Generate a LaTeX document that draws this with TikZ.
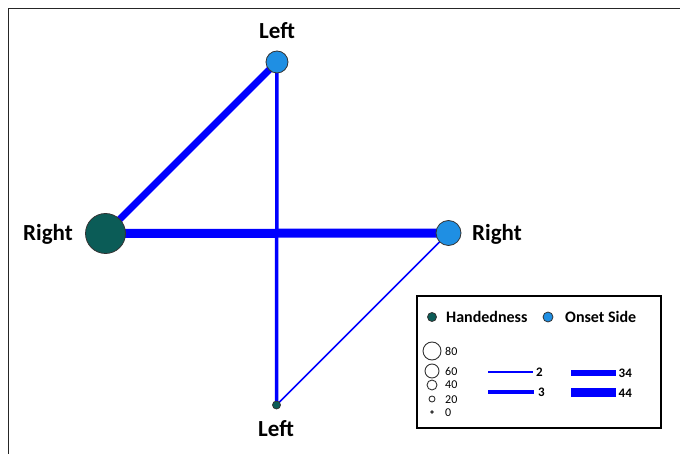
\documentclass[tikz,border=0pt]{standalone}
\usepackage{fontspec}
\setmainfont{Carlito}
\usetikzlibrary{backgrounds}
\begin{document}
\begin{tikzpicture}[x=1pt,y=-1pt,
  hand/.style={circle,draw=rim,line width=.8pt,fill=handfill,inner sep=0pt},
  onset/.style={circle,draw=rim,line width=.8pt,fill=onsetfill,inner sep=0pt},
  sizekey/.style={circle,draw=black!80,line width=.9pt,inner sep=0pt},
  link/.style={draw=linkblue,line cap=butt},
  lbl/.style={anchor=base,inner sep=0pt,font=\fontsize{23}{26}\selectfont\bfseries},
  keytext/.style={anchor=west,inner sep=0pt,font=\fontsize{16}{18}\selectfont\bfseries},
  keynum/.style={anchor=west,inner sep=0pt,font=\fontsize{12}{14}\selectfont},
  keyval/.style={anchor=west,inner sep=0pt,font=\fontsize{13}{15}\selectfont\bfseries}]
\definecolor{handfill}{HTML}{0B5C57}\definecolor{onsetfill}{HTML}{1F8FE3}
\definecolor{linkblue}{HTML}{0000FF}\definecolor{rim}{HTML}{333333}
\useasboundingbox (0,0) rectangle (680,454);
\draw[line width=1.3pt,black!85] (8.5,454) -- (8.5,8.5) -- (680,8.5);
\node[hand,minimum size=40pt] (rh) at (105.5,233.5) {};
\node[onset,minimum size=22pt] (lo) at (277,62) {};
\node[onset,minimum size=25pt] (ro) at (448.5,233) {};
\node[hand,minimum size=8pt] (lh) at (276.5,405) {};
\begin{scope}[on background layer]
\draw[link,line width=7pt] (rh.center) -- (lo.center);
\draw[link,line width=9pt] (rh.center) -- (ro.center);
\draw[link,line width=3.5pt] (lh.center) -- (lo.center);
\draw[link,line width=1.5pt] (lh.center) -- (ro.center);
\end{scope}
\node[lbl] (lot) at (277,39) {Left};
\node[lbl] (rht) at (48,241) {Right};
\node[lbl] (rot) at (497,241) {Right};
\node[lbl] (lht) at (276,436) {Left};
\draw[line width=2pt] (416.5,296.5) rectangle (660.5,427.5);
\node[hand,minimum size=9pt] (keyh) at (432,317) {};
\node[keytext] at (446,317) {Handedness};
\node[onset,minimum size=10pt] (keyo) at (548,317) {};
\node[keytext] at (565,317) {Onset Side};
\node[sizekey,minimum size=18pt] (k80) at (432,351) {};
\node[keynum] at (445,351) {80};
\node[sizekey,minimum size=14pt] (k60) at (432,371) {};
\node[keynum] at (445,371) {60};
\node[sizekey,minimum size=10pt] (k40) at (432,385) {};
\node[keynum] at (445,385) {40};
\node[sizekey,minimum size=6pt] (k20) at (432,399) {};
\node[keynum] at (445,400) {20};
\node[sizekey,fill=black!80,minimum size=2.5pt] (k0) at (432,412) {};
\node[keynum] at (445,413) {0};
\draw[link,line width=1.5pt] (488,372) -- (533,372);
\node[keyval] at (536,372) {2};
\draw[link,line width=3.5pt] (488,392) -- (534,392);
\node[keyval] at (538,392) {3};
\draw[link,line width=6pt] (571,373) -- (616,373);
\node[keyval] at (618.5,373) {34};
\draw[link,line width=9pt] (571,392.5) -- (616,392.5);
\node[keyval] at (618.5,393) {44};
\end{tikzpicture}
\end{document}
